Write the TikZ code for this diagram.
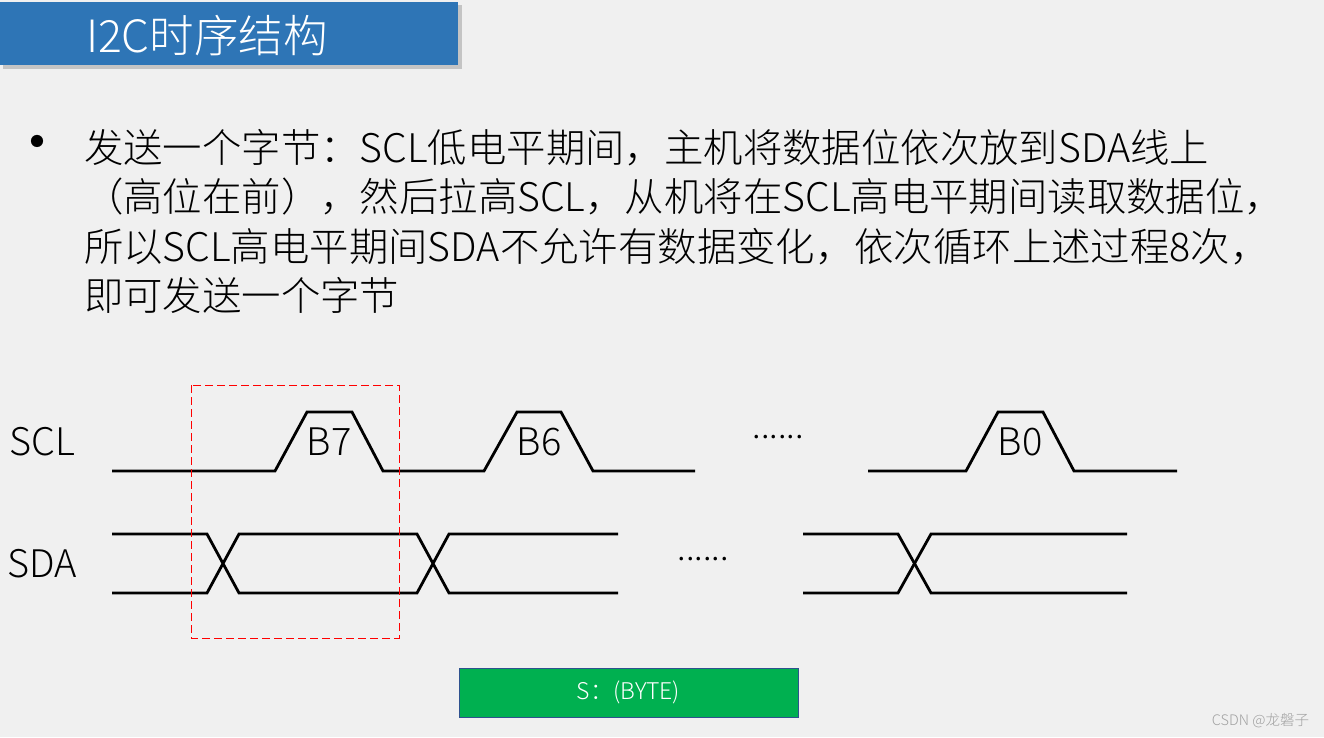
\documentclass[tikz,border=0pt]{standalone}
\usepackage{fontspec}
\IfFontExistsTF{Noto Sans CJK SC Light}{\newfontfamily\cjk{Noto Sans CJK SC Light}}{\newfontfamily\cjk{Noto Sans CJK SC}}
\newfontfamily\cjkreg{Noto Sans CJK SC}
\definecolor{bg}{HTML}{F0F0F0}
\definecolor{titleblue}{HTML}{2E75B6}
\definecolor{boxgreen}{HTML}{00B050}
\definecolor{boxborder}{HTML}{2F528F}
\definecolor{wmgray}{HTML}{A0A0A0}
\begin{document}
\begin{tikzpicture}[x=1pt,y=-1pt,
  every node/.style={inner sep=0pt, outer sep=0pt},
  wave/.style={line width=2.8pt, line join=miter, line cap=butt},
  bodytext/.style={anchor=base west, font=\cjk\fontsize{39.4}{39.4}\selectfont},
  siglabel/.style={font=\cjk\fontsize{38}{38}\selectfont},
  dotstext/.style={font=\cjk\fontsize{34}{34}\selectfont}]
\fill[bg] (0,0) rectangle (1324,737);
\useasboundingbox (0,0) rectangle (1324,737);
% title
\fill[black!30, opacity=0.7] (3,5) rectangle (462,69);
\fill[titleblue] (0,2) rectangle (458,65);
\node[anchor=west, text=white, font=\cjk\fontsize{44.5}{44.5}\selectfont] (title) at (86,36) {I2C时序结构};
% body
\node[font=\cjkreg\fontsize{58}{58}\selectfont] (bullet) at (38,149) {•};
\node[bodytext] (l1) at (84,162) {发送一个字节：SCL低电平期间，主机将数据位依次放到SDA线上};
\node[bodytext] (l2) at (84,211) {（高位在前），然后拉高SCL，从机将在SCL高电平期间读取数据位，};
\node[bodytext] (l3) at (84,261) {所以SCL高电平期间SDA不允许有数据变化，依次循环上述过程8次，};
\node[bodytext] (l4) at (84,310) {即可发送一个字节};
% signal labels
\node[siglabel] (scl) at (42,442) {SCL};
\node[siglabel] (sda) at (42,564) {SDA};
% SCL
\draw[wave] (112,471) -- (275,471) -- (307,412) -- (352,412) -- (383,471) -- (484,471) -- (517,412) -- (561,412) -- (593,471) -- (695,471);
\draw[wave] (868,471) -- (966,471) -- (998,412) -- (1043,412) -- (1074,471) -- (1177,471);
\node[siglabel] (b7) at (329,442) {B7};
\node[siglabel] (b6) at (539,442) {B6};
\node[siglabel] (b0) at (1020,442) {B0};
\node[dotstext] (dots1) at (778,437) {......};
% SDA
\draw[wave] (112,534) -- (207,534) -- (239,593) -- (417,593) -- (449,534) -- (618,534);
\draw[wave] (112,593) -- (207,593) -- (239,534) -- (417,534) -- (449,593) -- (618,593);
\draw[wave] (803,534) -- (898,534) -- (931,593) -- (1127,593);
\draw[wave] (803,593) -- (898,593) -- (931,534) -- (1127,534);
\node[dotstext] (dots2) at (703,559) {......};
% dashed frame
\draw[red, line width=1pt, dash pattern=on 8pt off 4pt] (191,385) rectangle (399,638);
% byte box
\node[draw=boxborder, line width=1pt, fill=boxgreen, minimum width=339pt, minimum height=49pt, text=white, font=\cjk\fontsize{23}{23}\selectfont] (byte) at (628.5,692.5) {S：(BYTE)};
% watermark
\node[anchor=east, text=wmgray, font=\cjk\fontsize{14.5}{14.5}\selectfont] (wm) at (1309,721) {CSDN @龙磐子};
\end{tikzpicture}
\end{document}
